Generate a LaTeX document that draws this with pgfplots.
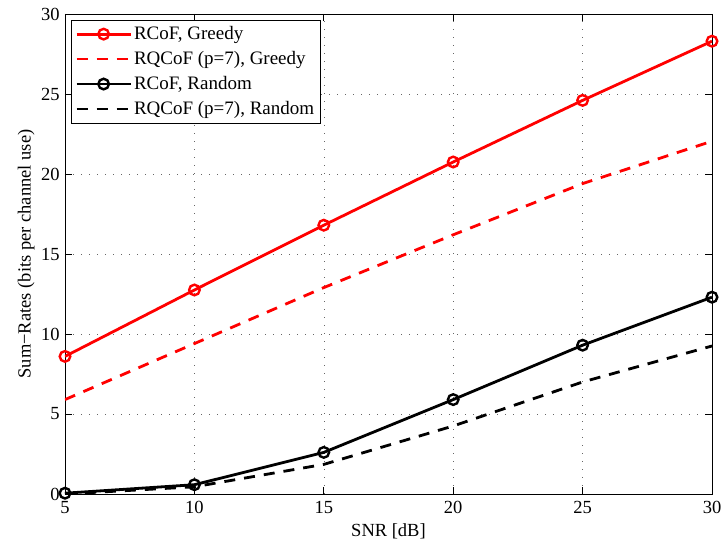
\documentclass[border=0pt]{standalone}
\usepackage{fontspec}
\setmainfont{Liberation Serif}
\usepackage{pgfplots}
\pgfplotsset{compat=1.18}
\begin{document}
\fontsize{18.5}{21}\selectfont
\begin{tikzpicture}
\begin{axis}[
  width=647pt, height=480pt, scale only axis,
  xmin=5, xmax=30, ymin=0, ymax=30,
  xtick={5,10,...,30}, ytick={0,5,...,30},
  tick align=inside, tick pos=both,
  major tick length=7pt,
  grid=major,
  grid style={dash pattern=on 1pt off 7pt, gray!80!black, line width=0.6pt},
  axis line style={line width=0.9pt},
  every tick/.style={black, line width=0.7pt},
  /pgf/number format/assume math mode=true,
  ticklabel style={font=\fontsize{18.5}{21}\selectfont},
  xticklabel style={yshift=-1pt},
  yticklabel style={xshift=1pt},
  xlabel={SNR [dB]},
  ylabel={Sum−Rates (bits per channel use)},
  label style={font=\fontsize{18.5}{21}\selectfont},
  xlabel style={yshift=3pt},
  ylabel style={yshift=-6pt},
  legend cell align=left,
  legend style={font=\fontsize{19}{22}\selectfont, draw=black, line width=0.8pt,
    at={(0.009,0.988)}, anchor=north west, inner xsep=4pt, inner ysep=4pt, row sep=5pt},
  legend image code/.code={
    \draw[mark repeat=2, mark phase=2, #1] plot coordinates {(0pt,0pt) (27pt,0pt) (54pt,0pt)};
  },
]
\addplot[red, line width=2.8pt, mark=o, mark size=5.3pt, mark options={solid, line width=2.4pt}]
  coordinates {(5,8.6) (10,12.75) (15,16.8) (20,20.75) (25,24.6) (30,28.3)};
\addlegendentry{RCoF, Greedy}
\addplot[red, line width=2.8pt, dash pattern=on 11pt off 9pt]
  coordinates {(5,5.9) (10,9.4) (15,12.9) (20,16.2) (25,19.4) (30,22.05)};
\addlegendentry{RQCoF (p=7), Greedy}
\addplot[black, line width=2.8pt, mark=o, mark size=5.3pt, mark options={solid, line width=2.4pt}]
  coordinates {(5,0.05) (10,0.58) (15,2.6) (20,5.9) (25,9.3) (30,12.3)};
\addlegendentry{RCoF, Random}
\addplot[black, line width=2.8pt, dash pattern=on 11pt off 9pt]
  coordinates {(5,0.0) (10,0.45) (15,1.85) (20,4.25) (25,7.0) (30,9.25)};
\addlegendentry{RQCoF (p=7), Random}
\end{axis}
% fixed page frame around the axis
\pgfresetboundingbox
\path (current axis.south west) ++(-65pt,-50pt) coordinate (bbA);
\path (current axis.north east) ++(11pt,14pt) coordinate (bbB);
\useasboundingbox (bbA) rectangle (bbB);
\end{tikzpicture}
\end{document}
